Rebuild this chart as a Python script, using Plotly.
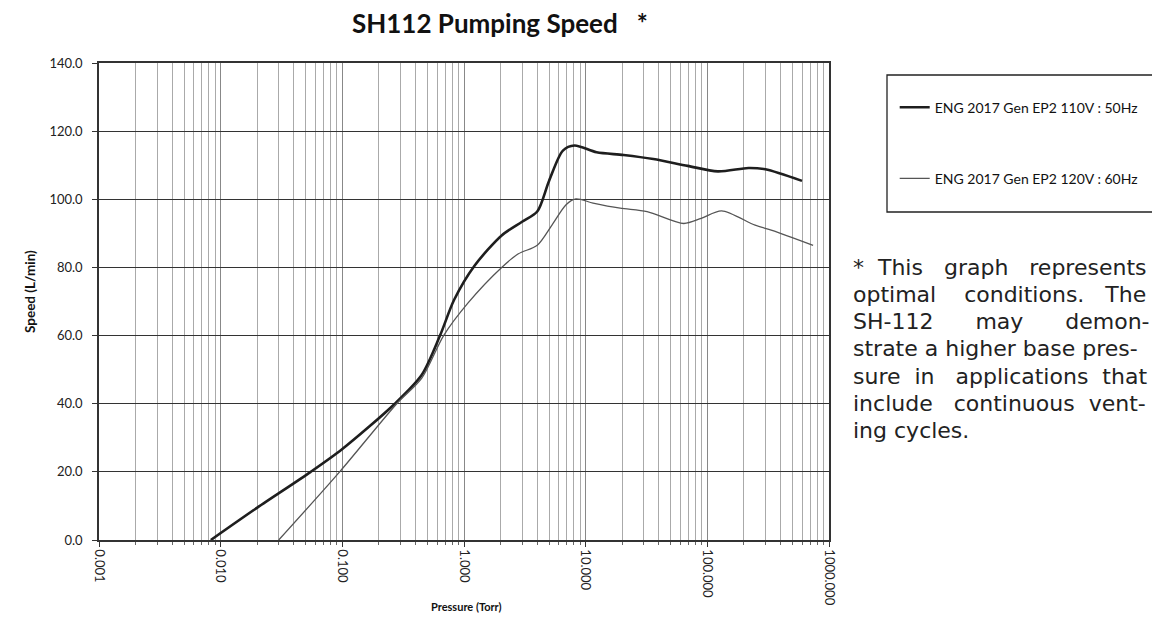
import plotly.graph_objects as go

# ---- data ----
pressure_a = [0.0083, 0.02, 0.055, 0.1, 0.27, 0.45, 0.635, 0.83, 1.22, 2.04, 3.0, 4.0,
              5.0, 6.5, 8.1, 12.3, 20.5, 36, 69, 122, 218, 300, 600]
speed_a = [0, 9.5, 20, 26.7, 40, 48.5, 60, 70.5, 80.5, 89.4, 93.4, 96.4,
           105.4, 114.3, 115.8, 113.8, 113.0, 111.8, 109.8, 108.2, 109.2, 108.8, 105.4]

pressure_b = [0.030, 0.095, 0.28, 0.45, 0.68, 1.08, 2.04, 2.8, 4.0, 5.3, 6.9, 8.3,
              11.5, 19.2, 32, 64, 89, 131, 247, 340, 740]
speed_b = [0, 20, 40, 47.5, 60, 69.6, 80.0, 84.0, 86.5, 92.5, 98.4, 100.1,
           98.9, 97.4, 96.4, 92.9, 94.4, 96.6, 92.4, 90.9, 86.5]

series_names = ["ENG 2017 Gen EP2 110V : 50Hz", "ENG 2017 Gen EP2 120V : 60Hz"]
title_text = "SH112 Pumping Speed&nbsp;&nbsp; *"
x_title = "Pressure (Torr)"
y_title = "Speed (L/min)"
# footnote lines (extra &nbsp; imitate the justified text of the original)
note_lines = [
    "*&nbsp; This&nbsp;&nbsp; graph&nbsp;&nbsp; represents",
    "optimal&nbsp;&nbsp;&nbsp; conditions.&nbsp;&nbsp; The",
    "SH-112&nbsp;&nbsp;&nbsp;&nbsp;&nbsp; may&nbsp;&nbsp;&nbsp;&nbsp;&nbsp; demon-",
    "strate a higher base pres-",
    "sure&nbsp; in&nbsp;&nbsp; applications&nbsp; that",
    "include&nbsp;&nbsp; continuous&nbsp; vent-",
    "ing cycles.",
]

# plot-area pixel frame (in the screenshot) used to place decorations
PL, PR, PT, PB = 99, 829, 63, 540
def px(x):
    return (x - PL) / (PR - PL)
def py(y):
    return (PB - y) / (PB - PT)

fig = go.Figure()
fig.add_trace(go.Scatter(x=pressure_a, y=speed_a, mode="lines", name=series_names[0],
                         line=dict(color="#1e1e1e", width=2.6, shape="spline", smoothing=0.8),
                         legendgroup="a"))
fig.add_trace(go.Scatter(x=pressure_b, y=speed_b, mode="lines", name=series_names[1],
                         line=dict(color="#555555", width=1.3, shape="spline", smoothing=0.8),
                         legendgroup="b"))

fig.update_layout(
    width=1152, height=635,
    margin=dict(l=91, r=331, t=55, b=103),
    paper_bgcolor="white", plot_bgcolor="white",
    font=dict(family="Lato", color="#222"),
    showlegend=True,
    legend=dict(x=1.09, y=0.94, xanchor="left", yanchor="top",
                font=dict(size=14, family="Lato", color="#111"),
                bgcolor="rgba(0,0,0,0)", borderwidth=0, tracegroupgap=50,
                itemwidth=30),
)

fig.update_xaxes(
    type="log", range=[-3, 3], dtick=1, tickformat=".3f", tickangle=90,
    tickfont=dict(size=13, family="Lato", color="#222"),
    showgrid=True, gridcolor="#888", gridwidth=1,
    minor=dict(dtick="D1", showgrid=True, gridcolor="#aaa", gridwidth=1,
               ticks="outside", ticklen=3, tickcolor="#666"),
    showline=True, linecolor="#333", linewidth=1.5, mirror=True,
    ticks="outside", ticklen=5, tickcolor="#333", zeroline=False,
)
fig.update_yaxes(
    range=[0, 140], dtick=20, tickformat=".1f",
    tickfont=dict(size=13, family="Lato", color="#222"),
    showgrid=True, gridcolor="#333", gridwidth=1.2,
    showline=True, linecolor="#333", linewidth=1.5, mirror=True,
    ticks="outside", ticklen=5, tickcolor="#333", zeroline=False,
    ticklabelstandoff=7,
)

# title and axis titles
fig.add_annotation(text="<b>" + title_text + "</b>", xref="paper", yref="paper",
                   x=px(500), y=py(23), xanchor="center", yanchor="middle", showarrow=False,
                   font=dict(size=26, family="Lato", color="#111"))
fig.add_annotation(text="<b>" + x_title + "</b>", xref="paper", yref="paper",
                   x=px(466), y=py(606), xanchor="center", yanchor="middle", showarrow=False,
                   font=dict(size=11, family="Lato", color="#111"))
fig.add_annotation(text="<b>" + y_title + "</b>", xref="paper", yref="paper",
                   x=px(30), y=py(292), xanchor="center", yanchor="middle", showarrow=False,
                   textangle=-90, font=dict(size=13.5, family="Lato", color="#111"))

# legend frame
fig.add_shape(type="rect", xref="paper", yref="paper",
              x0=px(887), x1=px(1153), y0=py(212), y1=py(75),
              line=dict(color="#222", width=1.3), fillcolor="rgba(0,0,0,0)")

# footnote, one annotation per line
for i, line in enumerate(note_lines):
    fig.add_annotation(text=line, xref="paper", yref="paper",
                       x=px(851), y=py(267 + 27.3 * i), xanchor="left", yanchor="middle",
                       align="left", showarrow=False,
                       font=dict(size=22, family="DejaVu Sans", color="#222"))

fig.write_html("out.html")
